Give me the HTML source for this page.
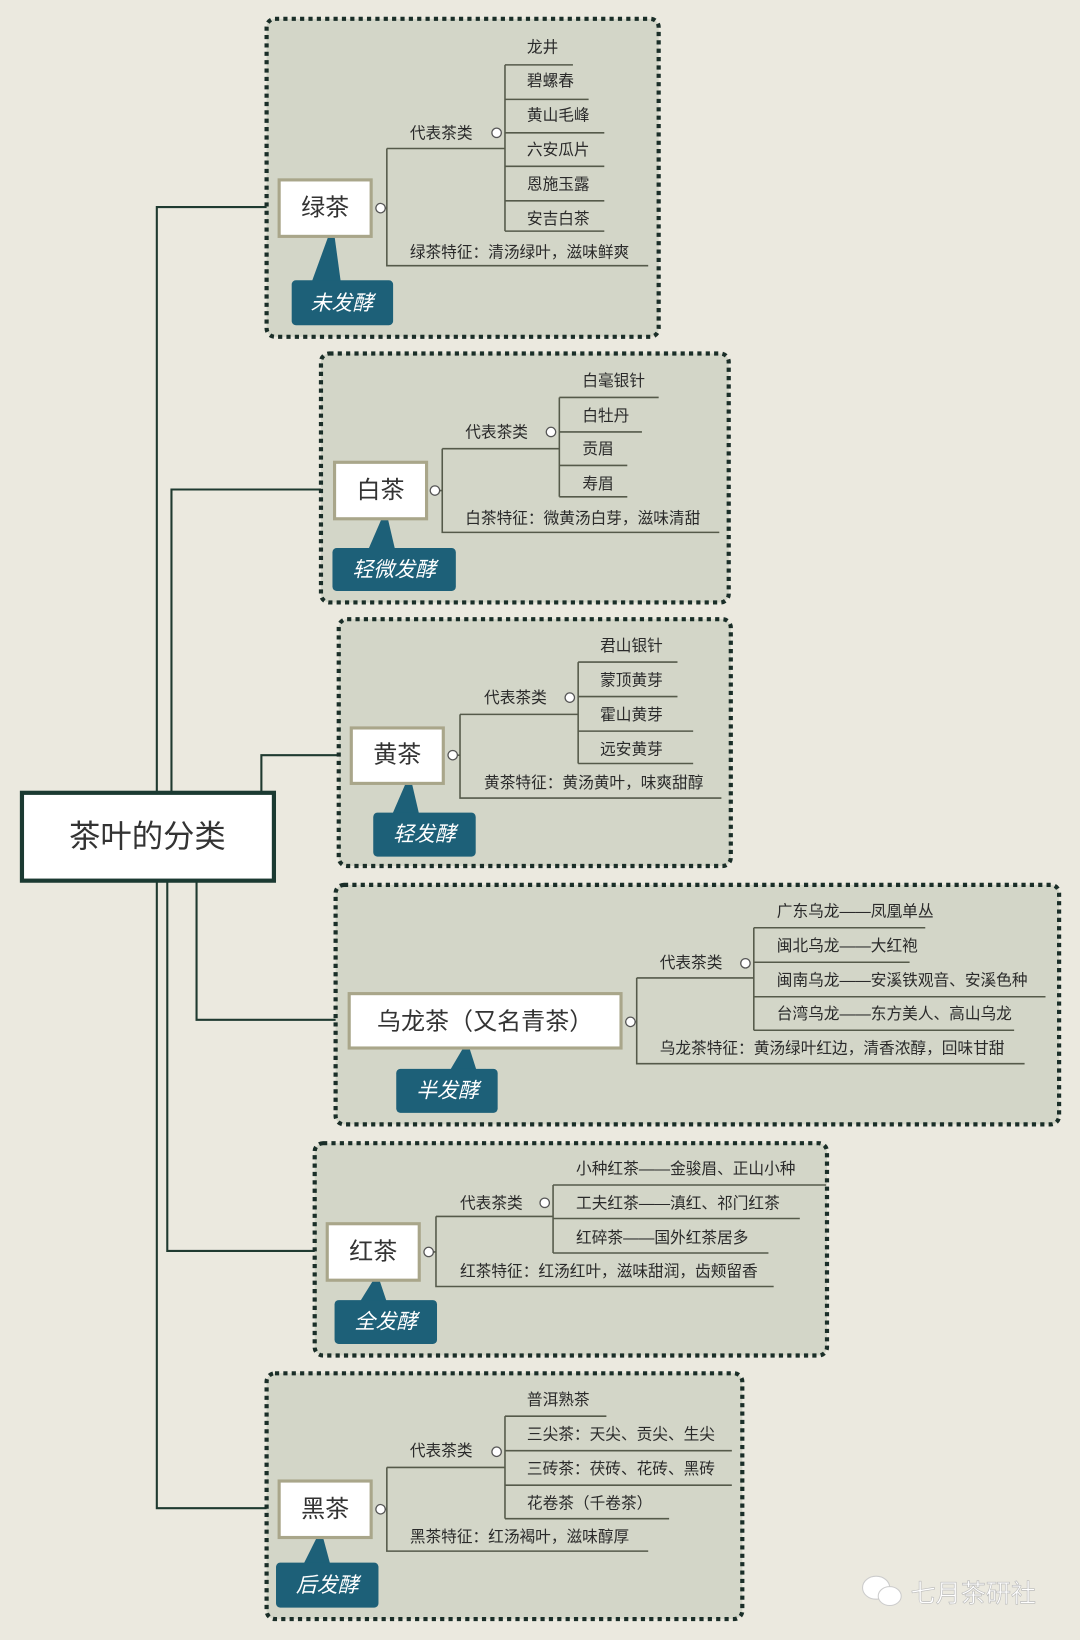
<!DOCTYPE html>
<html><head><meta charset="utf-8"><style>
html,body{margin:0;padding:0;background:#ebe9df;}
svg{display:block;}
text{font-family:"Liberation Sans","Noto Sans CJK SC",sans-serif;fill:#2a2a2a;dominant-baseline:central;}
.t{font-size:15px;}
.n{font-size:23px;text-anchor:middle;fill:#333;}
.g{font-size:20px;font-style:italic;fill:#fff;text-anchor:middle;}
.box{fill:#d3d6c8;stroke:#1a2e28;stroke-width:4;stroke-dasharray:4 4;}
.nd{fill:#fff;stroke:#a9a68a;stroke-width:3;}
.tg{fill:#1d6078;}
.c{fill:#fff;stroke:#555;stroke-width:1.2;}
.l{stroke:#555a4a;stroke-width:1.5;fill:none;}
.m{stroke:#1f3a30;stroke-width:2;fill:none;}
</style></head><body>
<svg width="1080" height="1640" viewBox="0 0 1033 1568" preserveAspectRatio="none" xmlns="http://www.w3.org/2000/svg">
<rect width="1033" height="1568" fill="#ebe9df"/>
<path class="m" d="M150 757V198H267 M164 757V468H320 M250 757V722H336 M188 843V975H334 M160 843V1196H313 M150 843V1442H267"/>
<rect x="21" y="758" width="241" height="84" fill="#fff" stroke="#1b3a32" stroke-width="4"/>
<text x="141" y="800" class="n" style="font-size:30px">茶叶的分类</text>

<rect class="box" x="255" y="18" width="375" height="304" rx="8"/>
<path class="l" d="M370 142V254H620 M370 142H483 M483 62V221 M483 62H548 M483 95H563 M483 127H578 M483 159H578 M483 192H578 M483 221H578 M360 199H370"/>
<circle class="c" cx="475" cy="127" r="4.5"/><circle class="c" cx="364" cy="199" r="4.5"/>
<text class="t" x="392" y="128">代表茶类</text>
<text class="t" x="504" y="46">龙井</text><text class="t" x="504" y="78">碧螺春</text><text class="t" x="504" y="111">黄山毛峰</text><text class="t" x="504" y="144">六安瓜片</text><text class="t" x="504" y="177">恩施玉露</text><text class="t" x="504" y="210">安吉白茶</text>
<text class="t" x="392" y="242">绿茶特征：清汤绿叶，滋味鲜爽</text>
<polygon class="tg" points="314,226 320,226 326,270 298,270"/>
<rect class="nd" x="267" y="172" width="88" height="54"/><text class="n" x="311" y="199">绿茶</text>
<rect class="tg" x="279" y="268" width="97" height="43" rx="4"/><text class="g" x="327" y="290">未发酵</text>

<rect class="box" x="307" y="338" width="390" height="238" rx="8"/>
<path class="l" d="M423 429V509H688 M423 429H535 M535 380V475 M535 380H630 M535 413H614 M535 445H600 M535 475H600 M412 469H423"/>
<circle class="c" cx="527" cy="413" r="4.5"/><circle class="c" cx="416" cy="469" r="4.5"/>
<text class="t" x="445" y="414">代表茶类</text>
<text class="t" x="557" y="365">白毫银针</text><text class="t" x="557" y="398">白牡丹</text><text class="t" x="557" y="430">贡眉</text><text class="t" x="557" y="463">寿眉</text>
<text class="t" x="445" y="496">白茶特征：微黄汤白芽，滋味清甜</text>
<polygon class="tg" points="365,496 371,496 378,526 352,526"/>
<rect class="nd" x="320" y="442" width="88" height="54"/><text class="n" x="364" y="469">白茶</text>
<rect class="tg" x="318" y="524" width="118" height="41" rx="4"/><text class="g" x="377" y="545">轻微发酵</text>

<rect class="box" x="324" y="592" width="375" height="236" rx="8"/>
<path class="l" d="M440 683V763H690 M440 683H553 M553 633V730 M553 633H648 M553 666H648 M553 699H663 M553 730H663 M429 722H440"/>
<circle class="c" cx="545" cy="667" r="4.5"/><circle class="c" cx="433" cy="722" r="4.5"/>
<text class="t" x="463" y="668">代表茶类</text>
<text class="t" x="574" y="618">君山银针</text><text class="t" x="574" y="651">蒙顶黄芽</text><text class="t" x="574" y="684">霍山黄芽</text><text class="t" x="574" y="717">远安黄芽</text>
<text class="t" x="463" y="749">黄茶特征：黄汤黄叶，味爽甜醇</text>
<polygon class="tg" points="388,749 394,749 401,779 375,779"/>
<rect class="nd" x="336" y="696" width="88" height="53"/><text class="n" x="380" y="722">黄茶</text>
<rect class="tg" x="357" y="777" width="98" height="42" rx="4"/><text class="g" x="406" y="798">轻发酵</text>

<rect class="box" x="321" y="846" width="692" height="229" rx="8"/>
<path class="l" d="M609 935V1017H980 M609 935H721 M721 887V985 M721 887H885 M721 920H870 M721 953H1000 M721 985H970 M598 977H609"/>
<circle class="c" cx="713" cy="921" r="4.5"/><circle class="c" cx="603" cy="977" r="4.5"/>
<text class="t" x="631" y="921">代表茶类</text>
<text class="t" x="743" y="872">广东乌龙——凤凰单丛</text><text class="t" x="743" y="905">闽北乌龙——大红袍</text><text class="t" x="743" y="938">闽南乌龙——安溪铁观音、安溪色种</text><text class="t" x="743" y="970">台湾乌龙——东方美人、高山乌龙</text>
<text class="t" x="631" y="1003">乌龙茶特征：黄汤绿叶红边，清香浓醇，回味甘甜</text>
<polygon class="tg" points="443,1002 449,1002 456,1024 430,1024"/>
<rect class="nd" x="334" y="950" width="260" height="52"/><text class="n" x="464" y="977">乌龙茶（又名青茶）</text>
<rect class="tg" x="379" y="1022" width="97" height="42" rx="4"/><text class="g" x="428" y="1043">半发酵</text>

<rect class="box" x="301" y="1093" width="490" height="203" rx="8"/>
<path class="l" d="M417 1163V1230H740 M417 1163H529 M529 1133V1198 M529 1133H790 M529 1165H765 M529 1198H735 M406 1197H417"/>
<circle class="c" cx="521" cy="1150" r="4.5"/><circle class="c" cx="410" cy="1197" r="4.5"/>
<text class="t" x="440" y="1151">代表茶类</text>
<text class="t" x="551" y="1118">小种红茶——金骏眉、正山小种</text><text class="t" x="551" y="1151">工夫红茶——滇红、祁门红茶</text><text class="t" x="551" y="1184">红碎茶——国外红茶居多</text>
<text class="t" x="440" y="1216">红茶特征：红汤红叶，滋味甜润，齿颊留香</text>
<polygon class="tg" points="357,1224 363,1224 370,1245 344,1245"/>
<rect class="nd" x="313" y="1170" width="88" height="54"/><text class="n" x="357" y="1197">红茶</text>
<rect class="tg" x="320" y="1243" width="98" height="42" rx="4"/><text class="g" x="369" y="1264">全发酵</text>

<rect class="box" x="255" y="1313" width="455" height="235" rx="8"/>
<path class="l" d="M370 1403V1483H620 M370 1403H483 M483 1354V1452 M483 1354H580 M483 1387H700 M483 1420H700 M483 1452H640 M360 1443H370"/>
<circle class="c" cx="475" cy="1388" r="4.5"/><circle class="c" cx="364" cy="1443" r="4.5"/>
<text class="t" x="392" y="1388">代表茶类</text>
<text class="t" x="504" y="1339">普洱熟茶</text><text class="t" x="504" y="1372">三尖茶：天尖、贡尖、生尖</text><text class="t" x="504" y="1405">三砖茶：茯砖、花砖、黑砖</text><text class="t" x="504" y="1438">花卷茶（千卷茶）</text>
<text class="t" x="392" y="1470">黑茶特征：红汤褐叶，滋味醇厚</text>
<polygon class="tg" points="303,1470 309,1470 316,1496 290,1496"/>
<rect class="nd" x="267" y="1416" width="88" height="54"/><text class="n" x="311" y="1443">黑茶</text>
<rect class="tg" x="264" y="1494" width="98" height="43" rx="4"/><text class="g" x="313" y="1516">后发酵</text>

<ellipse cx="838" cy="1518" rx="13" ry="11" fill="#fff" stroke="#ccc"/>
<ellipse cx="851" cy="1526" rx="11" ry="9" fill="#fff" stroke="#ccc"/>
<text x="871" y="1524" style="font-size:24px;fill:#fff;stroke:#bbb;stroke-width:0.6">七月茶研社</text>
</svg>
</body></html>
